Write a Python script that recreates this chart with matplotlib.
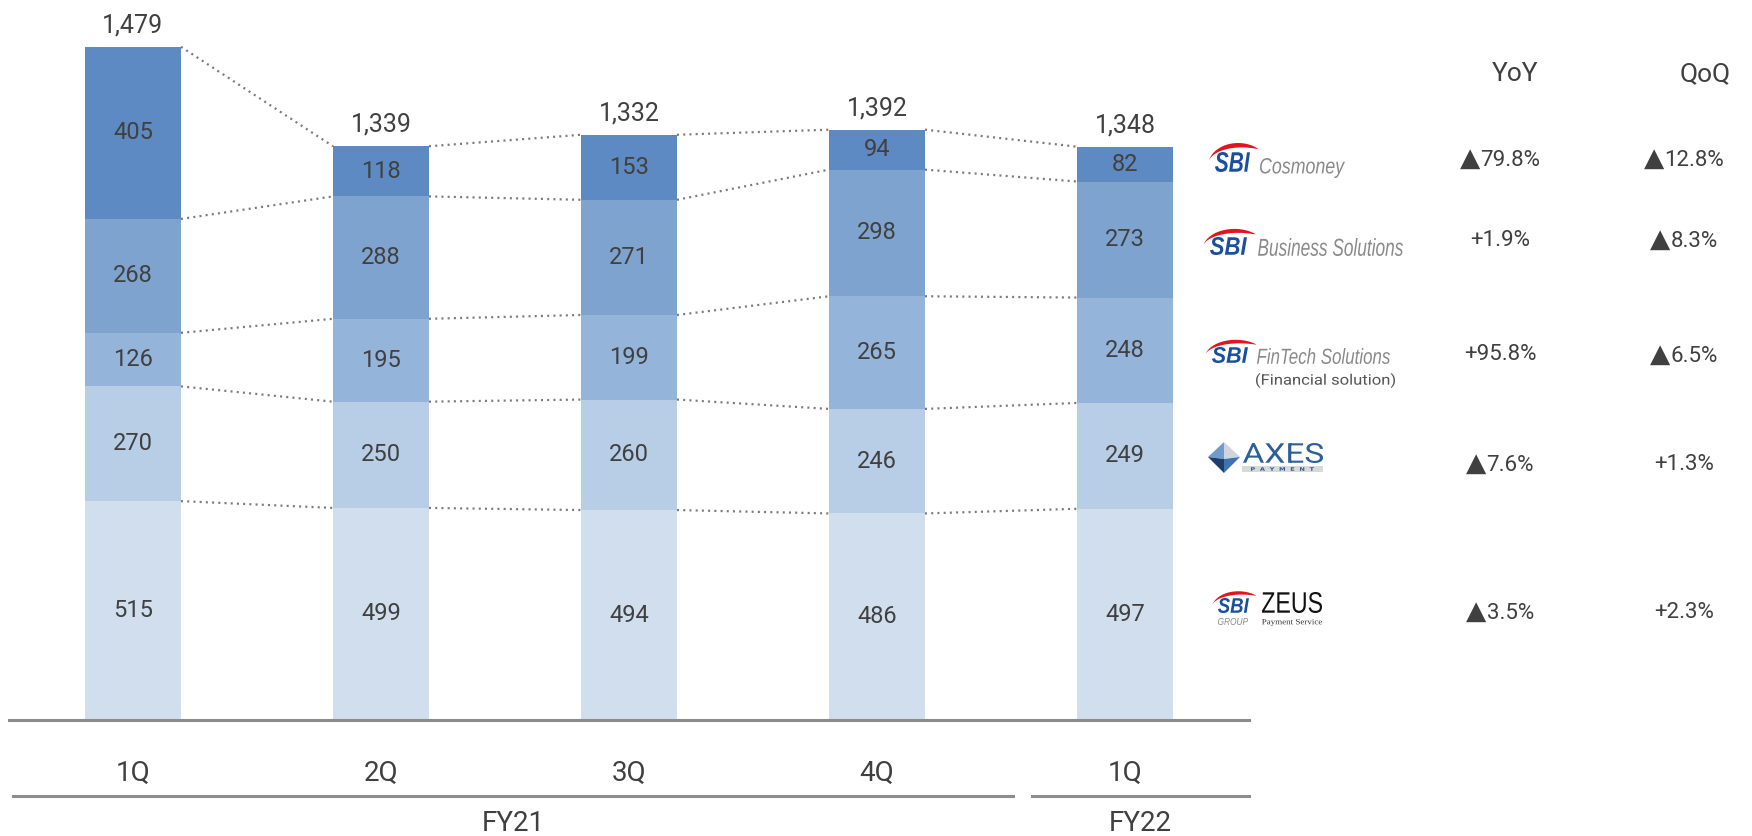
import numpy as np
import matplotlib
matplotlib.use("Agg")
import matplotlib.pyplot as plt
from matplotlib.textpath import TextPath
from matplotlib.patches import PathPatch, Polygon, Rectangle
from matplotlib.font_manager import FontProperties
from matplotlib.transforms import Affine2D, blended_transform_factory
from matplotlib.lines import Line2D
from matplotlib.offsetbox import TextArea, HPacker, AnnotationBbox

# ---------------- data ----------------
quarters = ['1Q', '2Q', '3Q', '4Q', '1Q']
fiscal_years = ['FY21', 'FY22']
zeus = [515, 499, 494, 486, 497]
axes_pay = [270, 250, 260, 246, 249]
fintech = [126, 195, 199, 265, 248]
business = [268, 288, 271, 298, 273]
cosmoney = [405, 118, 153, 94, 82]
totals = [1479, 1339, 1332, 1392, 1348]
yoy = ['▲79.8%', '+1.9%', '+95.8%', '▲7.6%', '▲3.5%']
qoq = ['▲12.8%', '▲8.3%', '▲6.5%', '+1.3%', '+2.3%']

series = [zeus, axes_pay, fintech, business, cosmoney]
colors = ['#d0deed', '#b8cde6', '#95b4da', '#7ea3cf', '#5d8ac3']

TXT = '#404040'
FAM = ['Roboto', 'DejaVu Sans']
plt.rcParams['font.family'] = FAM

W, H = 1752, 836
fig = plt.figure(figsize=(W / 100, H / 100), dpi=100)
fig.patch.set_facecolor('white')

ax = fig.add_axes([9 / W, (H - 720) / H, 1240 / W, 720 / H])
ax.set_xlim(-0.5, 4.5)
ax.set_ylim(0, 720 / 0.425)
for s in ['top', 'right', 'left']:
    ax.spines[s].set_visible(False)
ax.spines['bottom'].set_color('#8c8c8c')
ax.spines['bottom'].set_linewidth(2.2)
ax.set_xticks([])
ax.set_yticks([])

x = np.arange(len(quarters))
bw = 96 / 248
bottom = np.zeros(len(quarters))
levels = []
for vals, c in zip(series, colors):
    vals = np.array(vals, dtype=float)
    ax.bar(x, vals, bw, bottom=bottom, color=c, edgecolor='none', zorder=2)
    for i in range(len(x)):
        ax.text(x[i], bottom[i] + vals[i] / 2, f'{int(vals[i])}', ha='center', va='center',
                fontsize=17, color=TXT, zorder=4)
    bottom = bottom + vals
    levels.append(bottom.copy())

# dotted connectors
for lev in levels:
    for i in range(len(x) - 1):
        ax.plot([x[i] + bw / 2, x[i + 1] - bw / 2], [lev[i], lev[i + 1]],
                color='#7a7a7a', lw=1.6, linestyle=(0, (0.9, 1.9)), zorder=3)

# totals
for i in range(len(x)):
    ax.annotate(f'{totals[i]:,}', (x[i], bottom[i]), xytext=(0, 10.5), textcoords='offset points',
                ha='center', va='baseline', fontsize=18, color=TXT)

# quarter labels and fiscal year groups
trans = blended_transform_factory(ax.transData, fig.transFigure)
for i, q in enumerate(quarters):
    ax.text(x[i], (H - 781) / H, q, transform=trans, ha='center', va='baseline',
            fontsize=20, color=TXT)
yl = (H - 796) / H
fig.add_artist(Line2D([-0.484, 3.548], [yl, yl], transform=trans, color='#8c8c8c', lw=2.2))
fig.add_artist(Line2D([3.625, 4.5], [yl, yl], transform=trans, color='#8c8c8c', lw=2.2))
ax.text((-0.484 + 3.548) / 2, (H - 831) / H, fiscal_years[0], transform=trans, ha='center',
        va='baseline', fontsize=20, color=TXT)
ax.text((3.625 + 4.5) / 2, (H - 831) / H, fiscal_years[1], transform=trans, ha='center',
        va='baseline', fontsize=20, color=TXT)

# ---------------- overlay (pixel coords) for table and logos ----------------
ov = fig.add_axes([0, 0, 1, 1])
ov.set_xlim(0, W)
ov.set_ylim(H, 0)
ov.axis('off')
ov.patch.set_alpha(0)


def fit_text(s, box, color, **fp):
    x0, y0, x1, y1 = box
    tp = TextPath((0, 0), s, size=100, prop=FontProperties(**fp))
    ext = tp.get_extents()
    sx = (x1 - x0) / ext.width
    sy = (y1 - y0) / ext.height
    tr = Affine2D().translate(-ext.x0, -ext.y1).scale(sx, -sy).translate(x0, y0)
    ov.add_patch(PathPatch(tr.transform_path(tp), fc=color, ec='none', lw=0))


def swoosh(x0, y0, w, h):
    cx, cy = x0 + 0.66 * w, y0 + 0.7 * h
    rx, ry = 0.86 * w, 1.15 * h
    t = np.linspace(np.radians(48), np.radians(165), 60)
    u = (t - t[0]) / (t[-1] - t[0])
    th = 0.24 * h * np.sin(np.pi * u) ** 0.8 * (1.2 - 0.5 * u)
    outer = np.c_[cx + rx * np.cos(t), cy - ry * np.sin(t)]
    inner = np.c_[cx + rx * np.cos(t), cy - ry * np.sin(t) + th]
    ov.add_patch(Polygon(np.vstack([outer, inner[::-1]]), closed=True, fc='#e3141e', ec='none'))


def sbi(x0, y0, x1, y1):
    swoosh(x0, y0, x1 - x0, y1 - y0)
    fit_text('SBI', (x0, y0, x1, y1), '#1a4f9e', family='Liberation Sans', weight='bold', style='italic')


GRAY_LOGO = '#8a8a8a'
# Cosmoney
sbi(1215, 152, 1250, 172)
fit_text('Cosmoney', (1260, 158, 1345, 178), GRAY_LOGO, family='Liberation Sans', style='italic')
# Business Solutions
sbi(1210, 237, 1247, 255)
fit_text('Business Solutions', (1258, 238, 1403, 256), GRAY_LOGO, family='Liberation Sans', style='italic')
# FinTech Solutions
sbi(1212, 347, 1248, 363)
fit_text('FinTech Solutions', (1257, 348, 1390, 364), GRAY_LOGO, family='Liberation Sans', style='italic')
fit_text('(Financial solution)', (1256, 373, 1395, 388), '#555555', family='Roboto')
# AXES
ov.add_patch(Polygon([[1224, 442], [1208, 457], [1224, 459]], closed=True, fc='#6f9ccb', ec='none'))
ov.add_patch(Polygon([[1224, 442], [1240, 457], [1224, 459]], closed=True, fc='#cfd5dc', ec='none'))
ov.add_patch(Polygon([[1208, 457], [1224, 473], [1224, 459]], closed=True, fc='#1f3d6b', ec='none'))
ov.add_patch(Polygon([[1240, 457], [1224, 473], [1224, 459]], closed=True, fc='#3f73ad', ec='none'))
fit_text('AXES', (1243, 443, 1323, 463), '#2d5e98', family='Roboto')
ov.add_patch(Rectangle((1242, 466), 81, 6, fc='#d9d9d9', ec='none'))
fit_text('P  A  Y  M  E  N  T', (1251, 467.2, 1314, 470.8), '#2d5e98', family='DejaVu Sans', weight='bold')
# ZEUS
sbi(1218, 598, 1249, 613)
fit_text('GROUP', (1218, 618, 1248, 625), GRAY_LOGO, family='Liberation Sans', style='italic')
fit_text('ZEUS', (1262, 592, 1322, 613), '#111111', family='Liberation Sans')
fit_text('Payment Service', (1262, 619, 1322, 626), '#333333', family='Liberation Serif')

# table
ov.text(1515, 74, 'YoY', ha='center', va='center', fontsize=19, color=TXT, family=FAM)
ov.text(1705, 74, 'QoQ', ha='center', va='center', fontsize=19, color=TXT, family=FAM)


def value_text(xc, yc, s):
    parts = []
    if s.startswith('▲'):
        parts.append(TextArea('▲', textprops=dict(family='DejaVu Sans', fontsize=19, color=TXT)))
        s = s[1:]
    parts.append(TextArea(s, textprops=dict(family='Roboto', fontsize=16, color=TXT)))
    box = HPacker(children=parts, pad=0, sep=0, align='baseline')
    ab = AnnotationBbox(box, (xc, yc), xycoords='data', frameon=False,
                        box_alignment=(0.5, 0.5), pad=0)
    ov.add_artist(ab)


row_y = [159, 240, 355, 464, 612]
for r in range(len(yoy)):
    value_text(1500, row_y[r], yoy[r])
    value_text(1684, row_y[r], qoq[r])

fig.savefig('out.png', dpi=100, facecolor='white')
